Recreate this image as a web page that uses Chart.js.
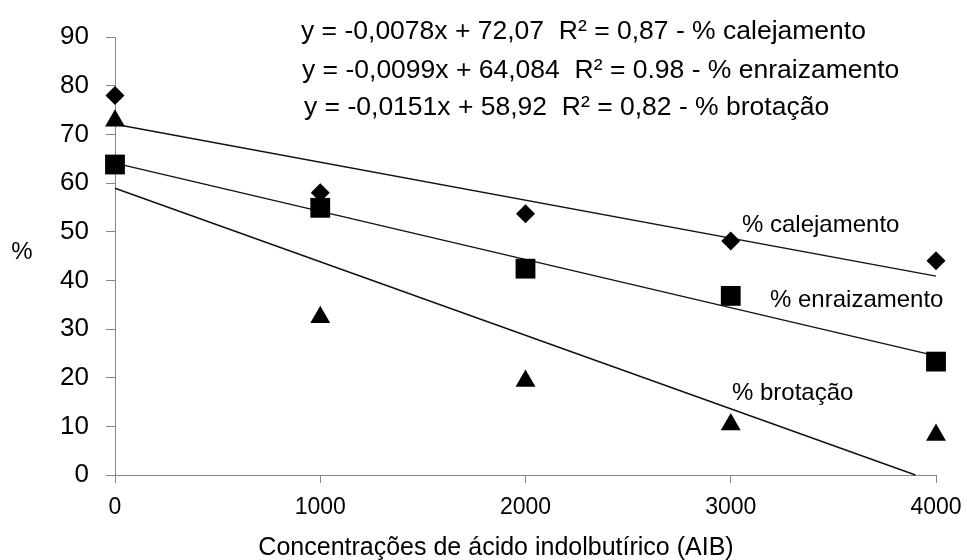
<!DOCTYPE html>
<html>
<head>
<meta charset="utf-8">
<script src="https://cdn.jsdelivr.net/npm/chart.js@4.4.1/dist/chart.umd.min.js"></script>
<style>
  body { margin: 0; background: #fff; }
  #wrap { width: 967px; height: 560px; }
</style>
</head>
<body>
<div id="wrap"><canvas id="aibChart" width="967" height="560"></canvas></div>
<script>
// concentrations of AIB (mg/L)
const concentracoes = [0, 1000, 2000, 3000, 4000];

const calejamento = [78, 58, 53.7, 48.1, 44];
const enraizamento = [63.8, 54.9, 42.4, 36.8, 23.3];
const brotacao = [72.8, 32.4, 19.3, 10.4, 8.2];

// regression line end points (from the equations on the figure)
const trendCalejamento = [{ x: 0, y: 72.07 }, { x: 4000, y: 40.87 }];
const trendEnraizamento = [{ x: 0, y: 64.08 }, { x: 4000, y: 24.48 }];
const trendBrotacao = [{ x: 0, y: 58.92 }, { x: 3900, y: 0 }];

const equacoes = [
    'y = -0,0078x + 72,07  R² = 0,87 - % calejamento',
    'y = -0,0099x + 64,084  R² = 0.98 - % enraizamento',
    'y = -0,0151x + 58,92  R² = 0,82 - % brotação'
];
const rotulos = ['% calejamento', '% enraizamento', '% brotação'];
const tituloX = 'Concentrações de ácido indolbutírico (AIB)';

const FONT = "'Liberation Sans', Arial, sans-serif";
const AXIS_GRAY = '#868686';

function toPoints(values) {
    return concentracoes.map((c, i) => ({ x: c, y: values[i] }));
}

// free text on the plot (equations, series labels, axis titles)
const textPlugin = {
    id: 'textPlugin',
    afterDraw(chart) {
        const ctx = chart.ctx;
        ctx.save();
        ctx.fillStyle = '#000';
        ctx.textBaseline = 'middle';
        ctx.font = `26.5px ${FONT}`;
        ctx.textAlign = 'left';
        ctx.fillText(equacoes[0], 301, 32);
        ctx.fillText(equacoes[1], 302, 71);
        ctx.fillText(equacoes[2], 304, 108);

        ctx.font = `24px ${FONT}`;
        ctx.fillText(rotulos[0], 742, 225);
        ctx.fillText(rotulos[1], 770, 300);
        ctx.fillText(rotulos[2], 732, 393);

        ctx.textAlign = 'center';
        ctx.fillText('%', 22, 252);

        ctx.font = `25px ${FONT}`;
        ctx.fillText(tituloX, 496, 548);
        ctx.restore();
    }
};

const markerBase = {
    showLine: false,
    backgroundColor: '#000',
    borderColor: '#000',
    borderWidth: 0,
    clip: false,
    order: 0
};

const trendBase = {
    showLine: true,
    borderColor: '#111',
    borderWidth: 1.4,
    pointRadius: 0,
    fill: false,
    clip: false,
    order: 1
};

new Chart(document.getElementById('aibChart'), {
    type: 'scatter',
    data: {
        datasets: [
            { ...markerBase, label: '% calejamento', data: toPoints(calejamento), pointStyle: 'rectRot', pointRadius: 9.5 },
            { ...markerBase, label: '% enraizamento', data: toPoints(enraizamento), pointStyle: 'rect', pointRadius: 14 },
            { ...markerBase, label: '% brotação', data: toPoints(brotacao), pointStyle: 'triangle', pointRadius: 11.5 },
            { ...trendBase, label: 'linear calejamento', data: trendCalejamento },
            { ...trendBase, label: 'linear enraizamento', data: trendEnraizamento },
            { ...trendBase, label: 'linear brotação', data: trendBrotacao }
        ]
    },
    options: {
        responsive: false,
        animation: false,
        devicePixelRatio: 1,
        layout: { padding: { top: 37, right: 31, bottom: 0, left: 0 } },
        plugins: {
            legend: { display: false },
            tooltip: { enabled: false }
        },
        scales: {
            x: {
                type: 'linear',
                min: 0,
                max: 4000,
                afterBuildTicks(scale) {
                    scale.ticks = concentracoes.map(v => ({ value: v }));
                },
                afterFit(scale) {
                    scale.height = 85;
                    scale.paddingLeft = 0;
                    scale.paddingRight = 0;
                },
                grid: { drawOnChartArea: false, drawTicks: true, tickLength: 8, color: AXIS_GRAY },
                border: { color: AXIS_GRAY, width: 1 },
                ticks: {
                    color: '#000',
                    font: { family: FONT, size: 23 },
                    padding: 11,
                    maxRotation: 0,
                    callback: v => String(v)
                }
            },
            y: {
                min: 0,
                max: 90,
                afterFit(scale) { scale.width = 115; },
                grid: { drawOnChartArea: false, drawTicks: true, tickLength: 9, color: AXIS_GRAY },
                border: { color: AXIS_GRAY, width: 1 },
                ticks: { stepSize: 10, color: '#000', font: { family: FONT, size: 26 }, padding: 17 }
            }
        }
    },
    plugins: [textPlugin]
});
</script>
</body>
</html>
